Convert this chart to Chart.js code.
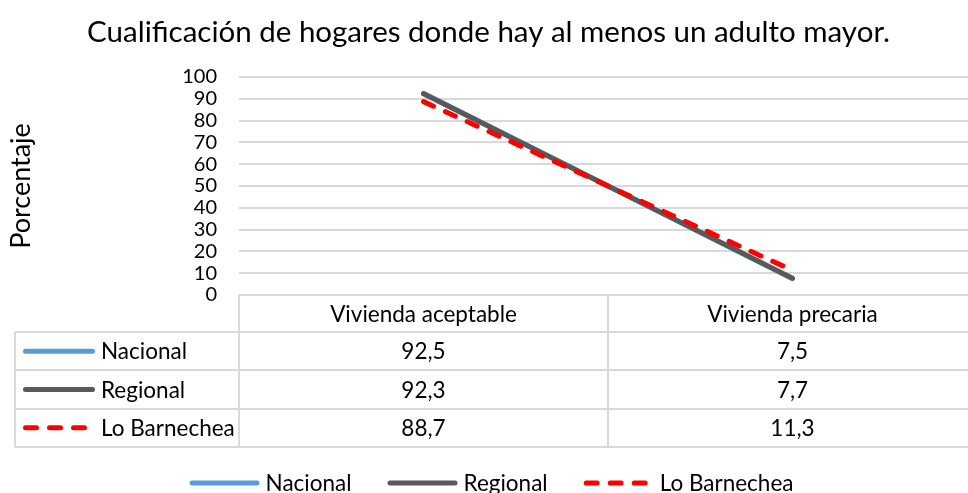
<!DOCTYPE html>
<html lang="es">
<head>
<meta charset="utf-8">
<title>Cualificación de hogares donde hay al menos un adulto mayor</title>
<script src="https://cdn.jsdelivr.net/npm/chart.js@4.4.0/dist/chart.umd.min.js"></script>
<style>
  html, body { margin: 0; padding: 0; background: #fff; overflow: hidden; }
  #wrap { position: relative; width: 990px; height: 493px; }
</style>
</head>
<body>
<div id="wrap"><canvas id="myChart" width="990" height="493"></canvas></div>
<script>
// data
const categories = ['Vivienda aceptable', 'Vivienda precaria']
const seriesNames = ['Nacional', 'Regional', 'Lo Barnechea']
const nacional = [92.5, 7.5]
const regional = [92.3, 7.7]
const loBarnechea = [88.7, 11.3]
const yTicks = [0, 10, 20, 30, 40, 50, 60, 70, 80, 90, 100]

const FONT = 'Lato'
const TEXT = '#000000'
const GRID = '#d9d9d9'
const TABLE_FONT = '22.5px ' + FONT

Chart.defaults.font.family = FONT
Chart.defaults.color = TEXT

function fmt(v) {
  return v.toFixed(1).replace('.', ',')
}

// line sample used both in the table and in the legend
function drawKey(ctx, ds, x0, x1, y) {
  ctx.save()
  ctx.strokeStyle = ds.borderColor
  ctx.lineWidth = ds.borderWidth
  ctx.lineCap = 'round'
  ctx.setLineDash(ds.borderDash || [])
  ctx.beginPath()
  ctx.moveTo(x0, y)
  ctx.lineTo(x1, y)
  ctx.stroke()
  ctx.restore()
}

const tablePlugin = {
  id: 'dataTable',
  afterDraw(chart) {
    const ctx = chart.ctx
    const xs = chart.scales.x
    const area = chart.chartArea
    const sets = chart.data.datasets
    const labels = chart.data.labels

    const top = area.bottom
    const headH = 37
    const rowH = 38.3
    const left = 15
    const right = area.right
    const bottom = top + headH + rowH * sets.length

    const centers = labels.map((l, i) => xs.getPixelForValue(i))
    const bounds = [area.left]
    for (let i = 0; i < centers.length - 1; i++) bounds.push((centers[i] + centers[i + 1]) / 2)
    bounds.push(right)

    ctx.save()
    ctx.strokeStyle = GRID
    ctx.lineWidth = 2

    // row lines
    for (let r = 0; r <= sets.length; r++) {
      const y = Math.round(top + headH + rowH * r)
      ctx.beginPath()
      ctx.moveTo(left, y)
      ctx.lineTo(right, y)
      ctx.stroke()
    }
    // column lines
    bounds.forEach(bx => {
      ctx.beginPath()
      ctx.moveTo(Math.round(bx), top)
      ctx.lineTo(Math.round(bx), bottom)
      ctx.stroke()
    })
    ctx.beginPath()
    ctx.moveTo(left, top + headH)
    ctx.lineTo(left, bottom)
    ctx.stroke()

    ctx.fillStyle = TEXT
    ctx.font = TABLE_FONT
    ctx.textBaseline = 'middle'

    // header
    ctx.textAlign = 'center'
    labels.forEach((l, i) => ctx.fillText(l, centers[i], top + headH / 2 + 1))

    // rows
    sets.forEach((ds, r) => {
      const cy = top + headH + rowH * r + rowH / 2 + 1
      drawKey(ctx, ds, 25.5, 92.5, cy - 1)
      ctx.textAlign = 'left'
      ctx.fillText(ds.label, 101, cy)
      ctx.textAlign = 'center'
      ds.data.forEach((v, i) => ctx.fillText(fmt(v), centers[i], cy))
    })

    // legend under the table
    const keyW = 70
    const keyGap = 6
    const itemGap = 36
    const widths = sets.map(ds => keyW + keyGap + ctx.measureText(ds.label).width)
    const total = widths.reduce((a, b) => a + b, 0) + itemGap * (sets.length - 1)
    let lx = 491.5 - total / 2
    const ly = 483
    sets.forEach((ds, i) => {
      drawKey(ctx, ds, lx + 2.5, lx + keyW - 2.5, ly)
      ctx.textAlign = 'left'
      ctx.fillText(ds.label, lx + keyW + keyGap, ly + 1)
      lx += widths[i] + itemGap
    })
    ctx.restore()
  }
}

const ctx = document.getElementById('myChart')

new Chart(ctx, {
  type: 'line',
  data: {
    labels: categories,
    datasets: [
      {
        label: seriesNames[0],
        data: nacional,
        borderColor: '#5b9bd5',
        borderWidth: 5,
        borderCapStyle: 'round',
        pointRadius: 0,
        order: 3
      },
      {
        label: seriesNames[1],
        data: regional,
        borderColor: '#595959',
        borderWidth: 5,
        borderCapStyle: 'round',
        pointRadius: 0,
        order: 2
      },
      {
        label: seriesNames[2],
        data: loBarnechea,
        borderColor: '#ff0000',
        borderWidth: 5,
        borderCapStyle: 'round',
        borderDash: [11, 13],
        pointRadius: 0,
        order: 1
      }
    ]
  },
  options: {
    responsive: false,
    animation: false,
    layout: { padding: { left: 0, right: 13, top: 0, bottom: 0 } },
    plugins: {
      legend: { display: false },
      tooltip: { enabled: false },
      title: {
        display: true,
        text: 'Cualificación de hogares donde hay al menos un adulto mayor.',
        color: TEXT,
        font: { family: FONT, size: 29.5, weight: 'normal' },
        padding: { top: 15, bottom: 26.6 }
      }
    },
    scales: {
      x: {
        offset: true,
        grid: { display: false },
        border: { display: false },
        ticks: { display: false },
        afterFit(scale) { scale.height = 198 }
      },
      y: {
        min: 0,
        max: 100,
        afterBuildTicks(scale) { scale.ticks = yTicks.map(v => ({ value: v })) },
        grid: { color: GRID, lineWidth: 2, drawTicks: false },
        border: { display: false },
        ticks: { padding: 22, color: TEXT, font: { size: 20 }, autoSkip: false },
        title: {
          display: true,
          text: 'Porcentaje',
          color: TEXT,
          font: { size: 27 },
          padding: { top: 5 }
        },
        afterFit(scale) { scale.width = 239 }
      }
    }
  },
  plugins: [tablePlugin]
})
</script>
</body>
</html>
